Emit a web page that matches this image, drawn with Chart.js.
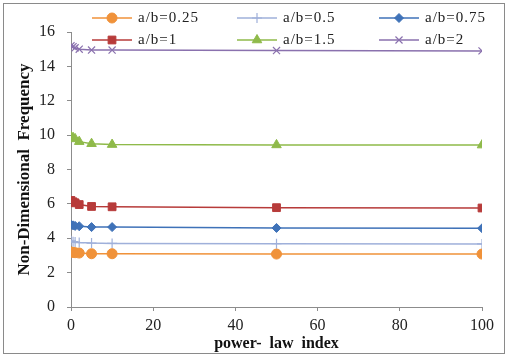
<!DOCTYPE html>
<html>
<head>
<meta charset="utf-8">
<script src="https://cdn.jsdelivr.net/npm/chart.js@4.4.1/dist/chart.umd.min.js"></script>
<style>
  html, body { margin: 0; padding: 0; background: #fff; }
  #wrap { width: 508px; height: 358px; }
</style>
</head>
<body>
<div id="wrap"><canvas id="freqChart" width="508" height="358"></canvas></div>
<script>
// power-law index values at which the frequency was computed
const powerIndex = [0, 0.5, 1, 2, 5, 10, 50, 100];

const ratioLabels = ['a/b=0.25', 'a/b=0.5', 'a/b=0.75', 'a/b=1', 'a/b=1.5', 'a/b=2'];

const freq025 = [3.2, 3.18, 3.16, 3.14, 3.1, 3.1, 3.08, 3.08];
const freq05  = [3.85, 3.8, 3.78, 3.75, 3.72, 3.7, 3.68, 3.67];
const freq075 = [4.78, 4.75, 4.72, 4.7, 4.65, 4.65, 4.6, 4.58];
const freq1   = [6.2, 6.12, 6.06, 5.96, 5.85, 5.83, 5.78, 5.76];
const freq15  = [9.9, 9.85, 9.78, 9.62, 9.5, 9.45, 9.43, 9.42];
const freq2   = [15.2, 15.15, 15.08, 15.0, 14.95, 14.95, 14.92, 14.9];

const xTicks = [0, 20, 40, 60, 80, 100];
const yTicks = [0, 2, 4, 6, 8, 10, 12, 14, 16];

const seriesColors = ['#F0923A', '#9FB0DA', '#3F72B8', '#B73B3A', '#8FBA4A', '#8A71AE'];
const markerStyles = ['circle', 'cross', 'rectRot', 'rect', 'triangle', 'crossRot'];
const markerSizes = [5, 5, 4.5, 5.5, 5.5, 5];
const seriesValues = [freq025, freq05, freq075, freq1, freq15, freq2];

const serif = '"Liberation Serif", "DejaVu Serif", serif';

const datasets = seriesValues.map((vals, i) => ({
    label: ratioLabels[i],
    data: powerIndex.map((x, j) => ({ x: x, y: vals[j] })),
    borderColor: seriesColors[i],
    backgroundColor: seriesColors[i],
    borderWidth: 1.5,
    pointStyle: markerStyles[i],
    pointRadius: markerSizes[i],
    pointBorderWidth: (markerStyles[i] === 'cross' || markerStyles[i] === 'crossRot') ? 1.2 : 1,
    showLine: true,
    tension: 0
}));

// frame around the whole figure plus the legend drawn over the plot
const frameAndLegend = {
    id: 'frameAndLegend',
    beforeDraw(chart) {
        const c = chart.ctx;
        c.save();
        c.fillStyle = '#fff';
        c.fillRect(0, 0, chart.width, chart.height);
        c.strokeStyle = '#8a8a8a';
        c.lineWidth = 1;
        c.strokeRect(3.5, 3.5, chart.width - 7, chart.height - 8);
        c.restore();
    },
    afterDraw(chart) {
        const c = chart.ctx;
        const colX = [92, 237, 379];
        const rowY = [18, 40];
        c.save();
        chart.data.datasets.forEach((ds, i) => {
            const x0 = colX[i % 3];
            const y = rowY[Math.floor(i / 3)];
            c.strokeStyle = ds.borderColor;
            c.lineWidth = 1.5;
            c.beginPath();
            c.moveTo(x0, y);
            c.lineTo(x0 + 40, y);
            c.stroke();
            c.lineWidth = ds.pointBorderWidth;
            c.fillStyle = ds.backgroundColor;
            Chart.helpers.drawPoint(c, {
                pointStyle: ds.pointStyle,
                radius: ds.pointRadius,
                borderWidth: ds.pointBorderWidth,
                rotation: 0
            }, x0 + 20, y);
            c.fillStyle = '#222';
            c.font = '15px ' + serif;
            c.letterSpacing = '1px';
            c.textBaseline = 'middle';
            c.textAlign = 'left';
            c.fillText(ds.label, x0 + 46, y);
        });
        c.restore();
    }
};

const ctx = document.getElementById('freqChart').getContext('2d');
new Chart(ctx, {
    type: 'scatter',
    data: { datasets: datasets },
    options: {
        responsive: false,
        animation: false,
        layout: { padding: { top: 32, right: 26, left: 0, bottom: 0 } },
        plugins: {
            legend: { display: false },
            tooltip: { enabled: false }
        },
        scales: {
            x: {
                type: 'linear',
                min: 0,
                max: 100,
                afterBuildTicks: scale => { scale.ticks = xTicks.map(v => ({ value: v })); },
                afterFit: scale => { scale.height = 51; },
                border: { color: '#8c8c8c', width: 1 },
                grid: { drawOnChartArea: false, drawTicks: true, tickLength: 4, color: '#8c8c8c' },
                ticks: { color: '#222', font: { family: serif, size: 16 }, padding: 5, maxRotation: 0 },
                title: {
                    display: true,
                    text: 'power-  law  index',
                    color: '#111',
                    font: { family: serif, size: 16, weight: 'bold' },
                    padding: { top: 0, bottom: 5 }
                }
            },
            y: {
                type: 'linear',
                min: 0,
                max: 16,
                afterBuildTicks: scale => { scale.ticks = yTicks.map(v => ({ value: v })); },
                afterFit: scale => { scale.width = 71; },
                border: { color: '#8c8c8c', width: 1 },
                grid: { drawOnChartArea: false, drawTicks: true, tickLength: 4, color: '#8c8c8c' },
                ticks: { color: '#222', font: { family: serif, size: 16 }, padding: 12 },
                title: {
                    display: true,
                    text: 'Non-Dimensional  Frequency',
                    color: '#111',
                    font: { family: serif, size: 17, weight: 'bold' },
                    padding: { top: 14, bottom: 0 }
                }
            }
        }
    },
    plugins: [frameAndLegend]
});
</script>
</body>
</html>
